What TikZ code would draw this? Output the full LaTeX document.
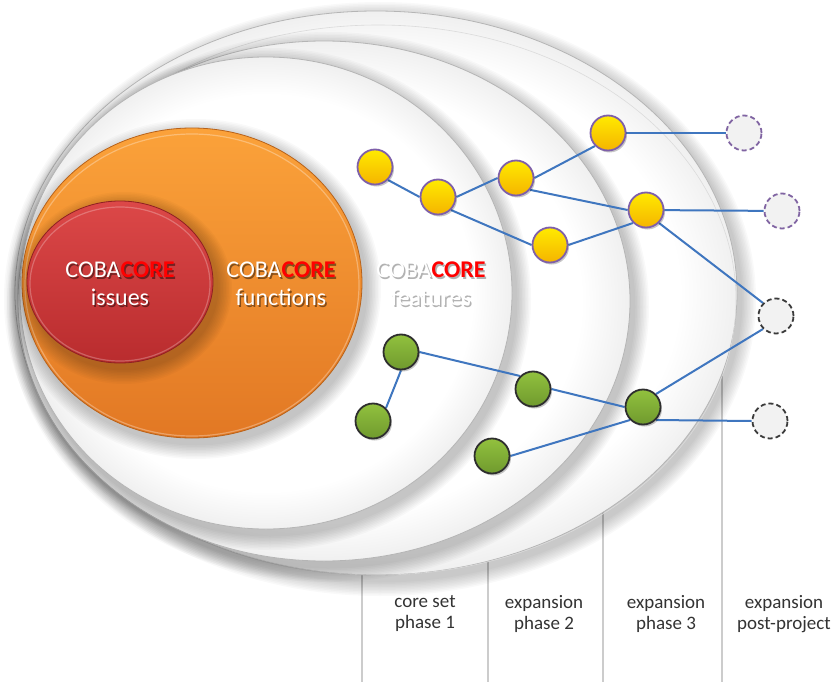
\documentclass[tikz,border=0pt]{standalone}
\usepackage{fontspec}
\setmainfont{Carlito}
\pgfdeclarelayer{back}
\pgfdeclarelayer{edges}
\pgfsetlayers{back,edges,main}
\definecolor{edgeblue}{HTML}{3F76BF}
\definecolor{ylwtop}{HTML}{FFEA00}
\definecolor{ylwbot}{HTML}{F5B400}
\definecolor{ylwline}{HTML}{7E5FAA}
\definecolor{grntop}{HTML}{92C13E}
\definecolor{grnbot}{HTML}{6F9A2E}
\definecolor{grnline}{HTML}{2E2E2E}
\definecolor{orgtop}{HTML}{FBA23A}
\definecolor{orgbot}{HTML}{E27824}
\definecolor{orgline}{HTML}{B8621A}
\definecolor{redtop}{HTML}{DC4848}
\definecolor{redbot}{HTML}{B92C2E}
\definecolor{redline}{HTML}{8E2022}
\definecolor{corered}{HTML}{FF0000}
\definecolor{dashfill}{HTML}{F2F2F2}
\definecolor{dashpurple}{HTML}{8064A2}
\definecolor{dashgray}{HTML}{3A3A3A}
\definecolor{labeltext}{HTML}{333333}
\pgfdeclareradialshading{ringshade}{\pgfpoint{0bp}{0bp}}{color(0bp)=(white); color(21bp)=(white); color(25bp)=(gray!12); color(50bp)=(gray!12)}
\newcommand\softshadow[4]{%
  \foreach \k in {1,...,10}{\fill[black,opacity=0.022] (#1+4,#2+6) ellipse [x radius=#3pt+1.5pt*\k, y radius=#4pt+1.5pt*\k];}}
\newcommand\whiteell[4]{%
  \softshadow{#1}{#2}{#3}{#4}%
  \path[shade, shading=ringshade, draw=gray!58, line width=0.8pt] (#1,#2) ellipse [x radius=#3pt, y radius=#4pt];}
\newcommand\cbc[1]{COBA{\color{#1}\bfseries CORE}}
\tikzset{
  basenode/.style={circle, minimum size=35pt, inner sep=0pt, line width=1.8pt,
    preaction={fill=black, opacity=0.22, transform canvas={xshift=1.5pt, yshift=-2pt}}},
  ynode/.style={basenode, draw=ylwline, top color=ylwtop, bottom color=ylwbot},
  gnode/.style={basenode, draw=grnline, top color=grntop, bottom color=grnbot},
  pnode/.style={circle, minimum size=35pt, inner sep=0pt, line width=1.8pt, draw=dashpurple, fill=dashfill, dash pattern=on 5pt off 3pt},
  knode/.style={circle, minimum size=35pt, inner sep=0pt, line width=1.8pt, draw=dashgray, fill=dashfill, dash pattern=on 5pt off 3pt},
  link/.style={edgeblue, line width=2pt},
  divider/.style={gray!40, line width=1.4pt},
  lbl/.style={font=\fontsize{19}{21}\selectfont, text=labeltext, align=center},
  bigtext/.style={font=\fontsize{24}{28}\selectfont, align=center, text=white},
  bigshadow/.style={bigtext, text=black, opacity=0.45}
}
\begin{document}
\begin{tikzpicture}[x=1pt, y=-1pt]
\useasboundingbox (0,0) rectangle (835,682);
\begin{pgfonlayer}{back}
  % dividers
  \foreach \n/\xx in {1/362, 2/488, 3/603, 4/722}{
    \coordinate (v\n t) at (\xx,300);
    \coordinate (v\n b) at (\xx,682);
    \draw[divider] (v\n t) -- (v\n b);
  }
  % white rings
  \whiteell{376}{293}{361}{282}
  \draw[gray!28, line width=0.6pt] (378,300) ellipse [x radius=358pt, y radius=275pt];
  \whiteell{324}{301}{306}{260}
  \whiteell{266}{293}{246}{236}
  % orange
  \softshadow{192}{283}{170}{155}
  \path[top color=orgtop, bottom color=orgbot, draw=orgline, line width=0.8pt] (192,283) ellipse [x radius=170pt, y radius=155pt];
  \draw[white, opacity=0.3, line width=1.2pt] (192,285) ellipse [x radius=167pt, y radius=151pt];
  % red
  \softshadow{120}{282}{93}{81}
  \path[top color=redtop, bottom color=redbot, draw=redline, line width=0.8pt] (120,282) ellipse [x radius=93pt, y radius=81pt];
  \draw[white, opacity=0.25, line width=1.2pt] (120,284) ellipse [x radius=90pt, y radius=77pt];
\end{pgfonlayer}

% big labels
\node[bigshadow] (issuesS) at (121.5,285.5) {\cbc{black}\\issues};
\node[bigtext] (issues) at (120,284) {\cbc{corered}\\issues};
\node[bigshadow] (functionsS) at (282.5,285.5) {\cbc{black}\\functions};
\node[bigtext] (functions) at (281,284) {\cbc{corered}\\functions};
\node[bigtext, text=gray, opacity=0.6] (featuresS) at (432.5,285.5) {\cbc{gray}\\features};
\node[bigtext] (features) at (431,284) {\cbc{corered}\\features};

% nodes
\node[ynode] (y1) at (375,167) {};
\node[ynode] (y2) at (438,197) {};
\node[ynode] (y3) at (516,178) {};
\node[ynode] (y4) at (608,133) {};
\node[ynode] (y5) at (550,245) {};
\node[ynode] (y6) at (646,210) {};
\node[pnode] (p1) at (744,133) {};
\node[pnode] (p2) at (782,211) {};
\node[knode] (k1) at (776,316) {};
\node[knode] (k2) at (770,421) {};
\node[gnode] (g1) at (401,352) {};
\node[gnode] (g2) at (373,421) {};
\node[gnode] (g3) at (533,389) {};
\node[gnode] (g4) at (492,456) {};
\node[gnode] (g5) at (643,407) {};

\begin{pgfonlayer}{edges}
  \draw[link] (y1.south east) -- (y2.west);
  \draw[link] (y2.east) -- (y3.west);
  \draw[link] (y2.south east) -- (y5.west);
  \draw[link] (y3.east) -- (y4.south west);
  \draw[link] (y3.-40) -- (y6.west);
  \draw[link] (y5.east) -- (y6.south west);
  \draw[link] (y4) -- (p1);
  \draw[link] (y6) -- (p2);
  \draw[link] (y6.south east) -- (k1.north west);
  \draw[link] (g1.south) -- (g2.north east);
  \draw[link] (g1.east) -- (g3.north west);
  \draw[link] (g3.east) -- (g5.west);
  \draw[link] (g4.east) -- (g5.south west);
  \draw[link] (g5.north east) -- (k1.south west);
  \draw[link] (g5.south east) -- (k2.west);
\end{pgfonlayer}

% phase labels
\node[lbl] (l1) at (425,614) {core set\\phase 1};
\node[lbl] (l2) at (544,614) {expansion\\phase 2};
\node[lbl] (l3) at (666,614) {expansion\\phase 3};
\node[lbl] (l4) at (784,614) {expansion\\post-project};
\end{tikzpicture}
\end{document}
